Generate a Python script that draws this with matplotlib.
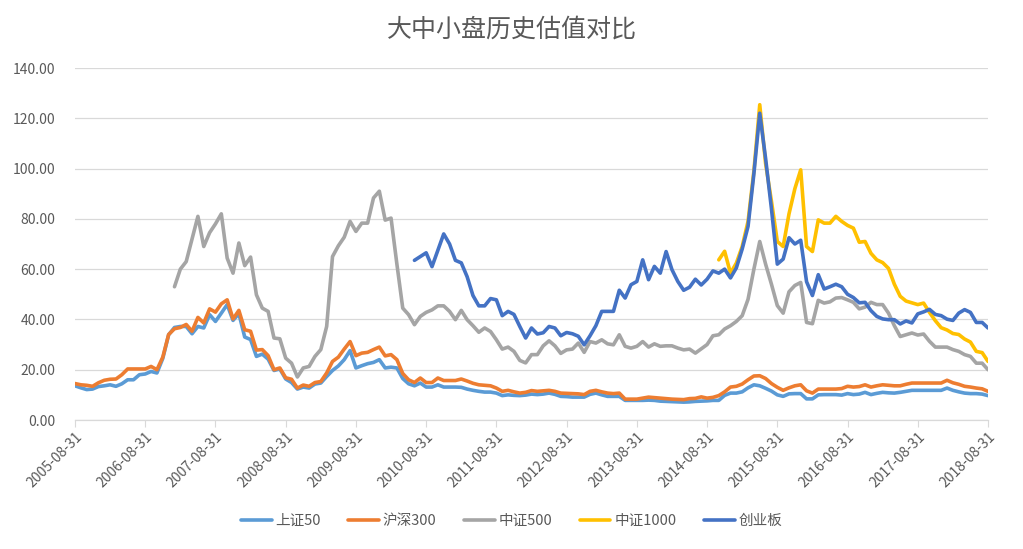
import matplotlib
matplotlib.use("Agg")
import matplotlib.pyplot as plt
import numpy as np
import pandas as pd

plt.rcParams['font.family'] = ['Noto Sans CJK SC', 'DejaVu Sans']

dates = pd.date_range("2005-08-31", "2018-08-31", freq="ME")
labels = [d.strftime("%Y-%m-%d") for d in dates]

sz50 = [13.6, 12.8, 12.1, 12.3, 13.3, 13.6, 14.0, 13.4, 14.4, 16.0, 16.0, 18.0, 18.3, 19.3, 18.7,
        24.5, 33.9, 36.8, 37.2, 37.2, 34.3, 37.2, 36.6, 41.9, 39.2, 42.5, 45.9, 39.6, 42.3, 33.0,
        32.0, 25.3, 26.2, 24.2, 19.7, 20.3, 16.3, 14.9, 12.3, 13.1, 12.7, 14.3, 14.7, 17.3, 19.7,
        21.5, 24.0, 27.6, 20.7, 21.6, 22.4, 22.9, 24.0, 20.7, 21.0, 20.7, 16.5, 14.4, 13.6, 14.7,
        13.1, 13.1, 14.0, 13.1, 13.1, 13.1, 13.0, 12.3, 11.8, 11.4, 11.1, 11.1, 10.7, 9.7, 10.0,
        9.8, 9.7, 9.9, 10.3, 10.1, 10.3, 10.7, 10.2, 9.4, 9.3, 9.1, 9.1, 9.1, 10.2, 10.7,
        10.0, 9.4, 9.4, 9.4, 7.8, 7.8, 7.8, 7.8, 7.9, 7.8, 7.5, 7.4, 7.3, 7.2, 7.1,
        7.2, 7.4, 7.5, 7.6, 7.8, 7.8, 9.8, 10.7, 10.7, 11.2, 12.8, 14.0, 13.6, 12.6, 11.5,
        10.0, 9.4, 10.4, 10.5, 10.5, 8.4, 8.4, 10.0, 10.1, 10.1, 10.1, 9.9, 10.5, 10.1, 10.3,
        11.0, 10.1, 10.6, 11.0, 10.8, 10.7, 11.0, 11.4, 11.8, 11.8, 11.8, 11.8, 11.8, 11.8, 12.7,
        11.8, 11.2, 10.7, 10.5, 10.5, 10.3, 9.7]

hs300 = [14.5, 14.0, 13.8, 13.4, 14.8, 15.8, 16.2, 16.3, 18.0, 20.3, 20.3, 20.3, 20.3, 21.3, 20.0,
         25.0, 34.0, 36.3, 36.8, 38.0, 35.3, 40.8, 38.6, 44.2, 42.9, 46.2, 47.8, 40.2, 43.6, 35.9,
         35.3, 27.8, 28.0, 25.6, 20.0, 20.7, 16.8, 16.2, 12.7, 13.9, 13.4, 14.9, 15.3, 18.7, 23.3,
         25.0, 28.2, 31.2, 25.6, 26.6, 26.9, 28.0, 29.0, 25.5, 26.0, 24.0, 18.5, 16.0, 14.9, 16.7,
         14.9, 14.9, 16.7, 15.7, 15.7, 15.7, 16.3, 15.5, 14.6, 14.0, 13.8, 13.6, 12.7, 11.4, 11.8,
         11.2, 10.7, 11.0, 11.7, 11.4, 11.6, 11.8, 11.4, 10.7, 10.6, 10.5, 10.4, 10.1, 11.4, 11.8,
         11.2, 10.7, 10.5, 10.7, 8.3, 8.3, 8.3, 8.7, 9.1, 8.9, 8.7, 8.5, 8.3, 8.2, 8.1,
         8.5, 8.6, 9.2, 8.7, 9.0, 9.7, 11.2, 13.1, 13.4, 14.3, 16.0, 17.5, 17.6, 16.5, 14.5,
         13.0, 11.8, 12.8, 13.6, 14.0, 11.6, 10.7, 12.3, 12.3, 12.3, 12.3, 12.5, 13.4, 13.1, 13.3,
         14.0, 13.1, 13.6, 14.0, 13.8, 13.6, 13.6, 14.2, 14.7, 14.7, 14.7, 14.7, 14.7, 14.7, 15.8,
         14.8, 14.2, 13.4, 13.1, 12.7, 12.4, 11.4]

zz500_start = 17
zz500 = [53.0, 60.0, 63.0, 72.0, 81.0, 69.0, 74.5, 78.0, 82.0, 64.4, 58.4, 70.4, 61.4,
         64.8, 49.8, 44.5, 43.2, 32.6, 32.3, 24.6, 22.6, 17.1, 20.7, 21.3, 25.3, 28.0, 37.2,
         65.0, 69.3, 72.7, 79.0, 75.0, 78.3, 78.3, 88.3, 91.0, 79.5, 80.3, 62.0, 44.5, 41.9,
         37.9, 41.2, 42.8, 43.8, 45.4, 45.4, 43.2, 39.9, 43.6, 39.9, 37.5, 34.9, 36.6, 35.2,
         31.9, 28.2, 29.0, 27.3, 23.7, 22.7, 26.0, 26.0, 29.5, 31.5, 29.5, 26.5, 27.9, 28.2,
         30.6, 26.9, 31.2, 30.6, 31.9, 30.3, 29.9, 33.9, 29.3, 28.6, 29.3, 31.2, 29.0, 30.3,
         29.3, 29.5, 29.5, 28.6, 27.9, 28.2, 26.6, 28.3, 30.0, 33.5, 33.9, 36.2, 37.5, 39.2,
         41.5, 48.0, 60.0, 71.0, 62.0, 54.0, 45.5, 42.5, 51.0, 53.5, 54.7, 38.8, 38.3, 47.6,
         46.5, 47.0, 48.5, 48.7, 47.8, 46.8, 44.2, 44.9, 46.8, 45.9, 45.9, 42.5, 37.5, 33.2,
         33.9, 34.6, 33.8, 34.2, 31.3, 29.0, 29.0, 29.0, 28.0, 27.3, 26.0, 25.3, 22.6, 22.6,
         20.0]

zz1000_start = 110
zz1000 = [63.7, 67.1, 58.4, 62.4, 69.0, 79.0, 99.0, 125.4, 102.0, 87.0, 71.0, 69.0, 82.0,
          92.0, 99.5, 69.0, 67.0, 79.6, 78.3, 78.3, 81.0, 79.0, 77.4, 76.3, 70.7, 71.0, 66.3,
          63.7, 62.6, 60.3, 54.0, 49.2, 47.3, 46.6, 45.9, 46.5, 42.8, 39.5, 36.7, 35.8, 34.4,
          34.0, 32.2, 31.0, 27.3, 26.8, 23.3]

cyb_start = 58
cyb = [63.5, 65.0, 66.5, 61.0, 67.5, 74.0, 70.0, 63.5, 62.5, 57.0, 49.5, 45.4, 45.4, 48.3,
       47.8, 41.5, 43.2, 42.0, 37.2, 32.6, 36.6, 34.2, 34.7, 37.2, 36.6, 33.5, 34.8, 34.3,
       33.3, 29.9, 33.5, 37.5, 43.2, 43.2, 43.2, 51.6, 48.5, 53.8, 55.1, 63.7, 55.8, 61.1,
       58.4, 67.0, 59.8, 55.1, 51.6, 52.8, 56.0, 53.7, 56.0, 59.3, 58.4, 60.0, 56.5, 60.5,
       68.0, 77.0, 98.0, 122.0, 104.0, 84.0, 62.0, 64.0, 72.5, 70.0, 71.5, 55.0, 49.5, 57.8,
       52.1, 53.0, 54.0, 53.0, 50.0, 48.7, 46.6, 46.8, 43.5, 41.2, 40.2, 39.9, 39.9, 38.2,
       39.4, 38.6, 42.2, 43.0, 44.0, 42.0, 41.5, 40.1, 39.6, 42.5, 43.9, 42.8, 38.8, 38.8,
       36.6]

names = ["上证50", "沪深300", "中证500", "中证1000", "创业板"]
colors = ["#5B9BD5", "#ED7D31", "#A5A5A5", "#FFC000", "#4472C4"]

fig = plt.figure(figsize=(10.23, 5.49), dpi=100)
ax = fig.add_axes([75/1023, 1-420/549, (988-75)/1023, (420-68)/549])

n = len(dates)
x = np.arange(n)
series = [(np.arange(len(sz50)), sz50),
          (np.arange(len(hs300)), hs300),
          (np.arange(zz500_start, zz500_start + len(zz500)), zz500),
          (np.arange(zz1000_start, zz1000_start + len(zz1000)), zz1000),
          (np.arange(cyb_start, cyb_start + len(cyb)), cyb)]

for (xs, ys), nm, c in zip(series, names, colors):
    ax.plot(xs, ys, color=c, lw=2.6, label=nm, solid_capstyle='round', solid_joinstyle='round')

ax.set_xlim(0, n-1)
ax.set_ylim(0, 140)
ax.set_yticks(np.arange(0, 141, 20))
ax.set_yticklabels([f"{v:.2f}" for v in np.arange(0, 141, 20)])
ticks = x[::12]
ax.set_xticks(ticks)
ax.set_xticklabels([labels[i] for i in ticks], rotation=45, ha='right', rotation_mode='anchor')

ax.grid(axis='y', color='#D9D9D9', lw=0.9)
ax.set_axisbelow(True)
for s in ['top', 'right', 'left']:
    ax.spines[s].set_visible(False)
ax.spines['bottom'].set_color('#D9D9D9')
ax.spines['bottom'].set_linewidth(0.9)
ax.tick_params(axis='y', length=0, colors='#595959', labelsize=10, pad=14)
ax.tick_params(axis='x', length=5, color='#D9D9D9', labelcolor='#595959', labelsize=10, pad=2)

fig.text(0.5, 1-30/549, "大中小盘历史估值对比", ha='center', va='center', fontsize=18, color='#595959')

leg = fig.legend(loc='center', bbox_to_anchor=(0.5, 1-521/549), ncol=5, frameon=False,
                 fontsize=10.5, handlelength=2.1, columnspacing=1.9, handletextpad=0.25)
for t in leg.get_texts():
    t.set_color('#595959')

fig.savefig("out.png", dpi=100)
